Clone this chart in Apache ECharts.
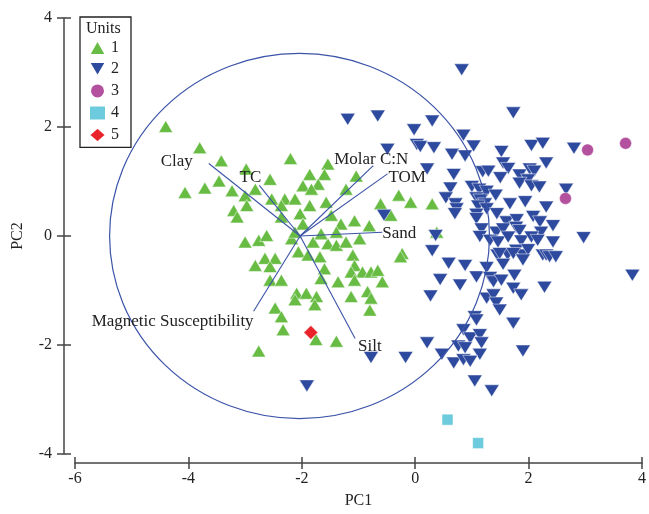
<!DOCTYPE html>
<html><head><meta charset="utf-8">
<script src="https://cdn.jsdelivr.net/npm/echarts@6/dist/echarts.min.js"></script>
<style>html,body{margin:0;padding:0;background:#fff}#c{width:649px;height:514px}</style>
</head><body><div id="c"></div>
<script>
// ---- data ----
const unitNames = ['1', '2', '3', '4', '5'];
const xTicks = [-6, -4, -2, 0, 2, 4];
const yTicks = [-4, -2, 0, 2, 4];

const unit1 = [[-4.40,2.01],[-3.80,1.62],[-3.42,1.38],[-2.20,1.42],[-1.54,1.32],[-4.06,0.80],[-3.71,0.88],[-3.46,1.01],[-3.23,0.83],[-2.98,1.23],[-2.82,0.86],[-2.56,1.04],[-1.86,1.13],[-1.60,1.13],[-1.71,0.95],[-1.98,0.92],[-1.83,0.86],[-1.22,0.86],[-1.04,1.10],[-3.00,0.74],[-3.20,0.47],[-2.97,0.56],[-3.14,0.35],[-2.53,0.68],[-2.30,0.68],[-2.36,0.56],[-2.12,0.68],[-1.86,0.56],[-2.03,0.41],[-1.57,0.62],[-1.48,0.38],[-1.31,0.22],[-1.07,0.28],[-0.81,0.19],[-0.61,0.59],[-0.43,0.38],[-0.29,0.75],[-0.08,0.62],[-2.36,0.35],[-1.98,0.22],[-2.18,-0.05],[-3.00,-0.11],[-2.76,-0.08],[-2.62,0.01],[-1.80,-0.11],[-1.54,-0.14],[-1.39,-0.17],[-1.22,-0.11],[-0.98,-0.05],[-1.66,0.04],[-1.39,0.07],[-2.06,-0.29],[-1.89,-0.35],[-1.68,-0.38],[-1.10,-0.35],[-0.23,-0.32],[-2.65,-0.41],[-2.47,-0.41],[-2.82,-0.54],[-2.56,-0.56],[-1.60,-0.60],[-1.07,-0.54],[-0.93,-0.66],[-0.78,-0.66],[-0.66,-0.63],[-1.13,-0.66],[-1.66,-0.78],[-1.36,-0.84],[-1.07,-0.81],[-0.58,-0.84],[-2.56,-0.81],[-2.36,-0.81],[-2.09,-1.05],[-1.92,-1.05],[-1.74,-1.11],[-2.12,-1.17],[-1.77,-1.26],[-1.13,-1.11],[-0.84,-1.02],[-0.78,-1.14],[-0.80,-1.36],[-2.47,-1.32],[-2.36,-1.48],[-2.33,-1.72],[-1.75,-1.90],[-1.39,-1.93],[-2.76,-2.11],[0.30,0.59],[0.38,0.07],[-0.26,-0.38],[-2.12,0.07]];

const unit2 = [[-1.19,2.14],[-0.66,2.20],[0.82,3.05],[1.73,2.26],[0.30,2.11],[-0.02,1.95],[0.85,1.85],[0.03,1.68],[0.09,1.64],[0.33,1.62],[-0.49,1.59],[0.65,1.50],[0.88,1.47],[1.03,1.65],[1.52,1.55],[2.05,1.66],[2.25,1.70],[2.80,1.61],[0.21,1.23],[0.68,1.13],[1.19,1.18],[1.29,1.19],[1.55,1.34],[1.64,1.24],[1.50,1.07],[1.84,1.12],[2.02,1.23],[2.10,1.19],[2.31,1.34],[1.99,1.03],[0.62,0.88],[1.00,0.91],[1.13,0.86],[1.26,0.82],[1.42,0.75],[1.84,0.97],[2.05,0.92],[2.19,0.90],[2.66,0.86],[0.54,0.70],[0.71,0.59],[0.73,0.50],[0.70,0.41],[1.08,0.70],[1.15,0.66],[1.23,0.59],[1.11,0.55],[1.26,0.50],[1.67,0.59],[1.94,0.63],[2.31,0.53],[1.08,0.40],[1.08,0.32],[1.44,0.41],[1.61,0.26],[1.79,0.30],[2.08,0.36],[2.20,0.26],[2.43,0.19],[-0.55,0.38],[0.36,0.01],[1.17,0.13],[1.43,0.07],[1.55,0.13],[1.78,0.16],[1.84,0.10],[2.22,0.07],[2.97,-0.03],[1.14,-0.01],[1.32,-0.08],[1.46,-0.11],[1.64,-0.02],[1.87,-0.09],[2.05,-0.02],[2.16,-0.08],[2.43,-0.11],[0.30,-0.27],[1.45,-0.35],[1.63,-0.34],[1.78,-0.26],[1.90,-0.35],[1.99,-0.25],[2.25,-0.35],[2.31,-0.35],[2.37,-0.38],[2.48,-0.38],[1.49,-0.32],[1.73,-0.32],[0.59,-0.50],[0.88,-0.54],[1.26,-0.58],[1.55,-0.52],[1.90,-0.44],[3.83,-0.72],[0.44,-0.80],[0.79,-0.90],[1.08,-0.75],[1.32,-0.76],[1.38,-0.84],[1.52,-0.81],[1.75,-0.72],[2.28,-0.94],[1.73,-0.96],[1.87,-1.08],[0.27,-1.10],[1.26,-1.14],[1.38,-1.08],[1.43,-1.23],[1.49,-1.36],[1.05,-1.48],[1.08,-1.54],[1.73,-1.60],[0.85,-1.72],[0.97,-1.87],[1.14,-1.81],[1.17,-1.96],[0.21,-1.96],[0.76,-2.02],[0.88,-2.05],[1.14,-2.17],[1.90,-2.11],[-0.17,-2.23],[-0.78,-2.23],[0.47,-2.17],[0.68,-2.33],[0.85,-2.27],[0.97,-2.30],[1.05,-2.66],[1.35,-2.84],[-1.91,-2.75]];

const unit3 = [[3.04,1.58],[3.71,1.70],[2.65,0.69]];
const unit4 = [[0.57,-3.37],[1.11,-3.80]];
const unit5 = [[-1.84,-1.77]];

// loading vectors (biplot)
const vectorOrigin = [-2.03, 0];
const vectorNames = ['Clay', 'TC', 'Molar C:N', 'TOM', 'Sand', 'Silt', 'Magnetic Susceptibility'];
const vectorX = [-3.64, -2.75, -0.74, -0.49, -0.58, -1.06, -2.85];
const vectorY = [1.33, 0.93, 1.29, 1.14, 0.07, -1.88, -1.38];
// correlation circle: centre x, centre y, radius
const circleData = [[-2.04, 0, 3.35]];

// ---- styling (not data) ----
const labelPlace = [
  {align: 'right', dx: -16, dy: -2},
  {align: 'right', dx: 2, dy: -8},
  {align: 'center', dx: -2, dy: -6},
  {align: 'left', dx: 1, dy: 4},
  {align: 'left', dx: 0, dy: 1},
  {align: 'left', dx: 3, dy: 8},
  {align: 'right', dx: 0, dy: 10}
];
const FONT = '"Liberation Serif", "Times New Roman", serif';
const BLUE_LINE = '#3b53a8';
const AX = '#444';

const chart = echarts.init(document.getElementById('c'), null, {renderer: 'canvas'});

const baseX = {
  type: 'value', min: xTicks[0], max: xTicks[xTicks.length - 1], interval: xTicks[1] - xTicks[0],
  position: 'bottom', offset: 9, splitLine: {show: false}
};
const baseY = {
  type: 'value', min: yTicks[0], max: yTicks[yTicks.length - 1], interval: yTicks[1] - yTicks[0],
  position: 'left', offset: 11, splitLine: {show: false}
};

const invTri = 'path://M0,0L20,0L10,17Z';

chart.setOption({
  animation: false,
  backgroundColor: '#fff',
  grid: {left: 75, right: 3, top: 18, bottom: 57, containLabel: false},
  xAxis: [
    Object.assign({}, baseX, {
      name: 'PC1', nameLocation: 'middle', nameGap: 30,
      nameTextStyle: {fontFamily: FONT, fontSize: 16, color: '#222'},
      axisLine: {show: true, onZero: false, lineStyle: {color: AX, width: 1.5}},
      axisTick: {show: true, inside: false, length: 6, lineStyle: {color: AX, width: 1.5}},
      axisLabel: {show: true, margin: 8, fontFamily: FONT, fontSize: 16, color: '#222'}
    }),
    Object.assign({}, baseX, {
      axisLine: {show: false, onZero: false},
      axisTick: {show: true, inside: true, length: 6, lineStyle: {color: AX, width: 1.5}},
      axisLabel: {show: false}
    })
  ],
  yAxis: [
    Object.assign({}, baseY, {
      name: 'PC2', nameLocation: 'middle', nameGap: 38,
      nameTextStyle: {fontFamily: FONT, fontSize: 16, color: '#222'},
      axisLine: {show: true, onZero: false, lineStyle: {color: AX, width: 1.5}},
      axisTick: {show: true, inside: false, length: 7, lineStyle: {color: AX, width: 1.5}},
      axisLabel: {show: true, margin: 12, fontFamily: FONT, fontSize: 16, color: '#222'}
    }),
    Object.assign({}, baseY, {
      axisLine: {show: false, onZero: false},
      axisTick: {show: true, inside: true, length: 7, lineStyle: {color: AX, width: 1.5}},
      axisLabel: {show: false}
    })
  ],
  legend: {
    data: unitNames,
    orient: 'vertical', left: 80, top: 17,
    padding: [22, 12, 4, 8],
    itemWidth: 17, itemHeight: 15, itemGap: 5,
    borderColor: '#222', borderWidth: 1.3, borderRadius: 0,
    textStyle: {fontFamily: FONT, fontSize: 16, color: '#222', lineHeight: 12},
    selectedMode: false
  },
  graphic: [{
    type: 'text', left: 86, top: 21,
    style: {text: 'Units', font: '16px ' + FONT, fill: '#222'}
  }],
  series: [
    {name: unitNames[0], type: 'scatter', data: unit1, symbol: 'triangle', symbolSize: [14, 12],
     itemStyle: {color: '#68bc44', borderColor: '#fff', borderWidth: 0.5, opacity: 1}, z: 2},
    {name: unitNames[1], type: 'scatter', data: unit2, symbol: invTri, symbolSize: [15, 12],
     itemStyle: {color: '#2e4a9e', borderColor: '#fff', borderWidth: 0.5, opacity: 1}, z: 3},
    {name: unitNames[2], type: 'scatter', data: unit3, symbol: 'circle', symbolSize: 12,
     itemStyle: {color: '#b4519f', borderColor: '#fff', borderWidth: 0.5, opacity: 1}, z: 3},
    {name: unitNames[3], type: 'scatter', data: unit4, symbol: 'rect', symbolSize: 11,
     itemStyle: {color: '#6ccbdd', borderColor: '#fff', borderWidth: 0.5, opacity: 1}, z: 3},
    {name: unitNames[4], type: 'scatter', data: unit5, symbol: 'diamond', symbolSize: 14,
     itemStyle: {color: '#e8242a', borderColor: '#fff', borderWidth: 0.5, opacity: 1}, z: 3},
    {
      type: 'custom', z: 5, silent: true, clip: false,
      data: circleData,
      renderItem: function (params, api) {
        const c = api.coord([api.value(0), api.value(1)]);
        const ex = api.coord([api.value(0) + api.value(2), api.value(1)]);
        const ey = api.coord([api.value(0), api.value(1) + api.value(2)]);
        const rx = Math.abs(ex[0] - c[0]);
        const ry = Math.abs(c[1] - ey[1]);
        return {
          type: 'circle', shape: {cx: 0, cy: 0, r: rx}, x: c[0], y: c[1], scaleY: ry / rx,
          style: {fill: 'none', stroke: BLUE_LINE, lineWidth: 1.2, strokeNoScale: true}
        };
      }
    },
    {
      type: 'custom', z: 6, silent: true, clip: false,
      data: vectorNames.map(function (n, i) { return [vectorX[i], vectorY[i], i]; }),
      renderItem: function (params, api) {
        const i = api.value(2);
        const o = api.coord(vectorOrigin);
        const e = api.coord([api.value(0), api.value(1)]);
        const lp = labelPlace[i];
        return {
          type: 'group',
          children: [
            {type: 'line', shape: {x1: o[0], y1: o[1], x2: e[0], y2: e[1]},
             style: {stroke: BLUE_LINE, lineWidth: 1.1}},
            {type: 'text', x: e[0] + lp.dx, y: e[1] + lp.dy,
             style: {text: vectorNames[i], font: '17px ' + FONT, fill: '#222',
                     align: lp.align, verticalAlign: 'middle'}}
          ]
        };
      }
    }
  ]
});
</script>
</body></html>
